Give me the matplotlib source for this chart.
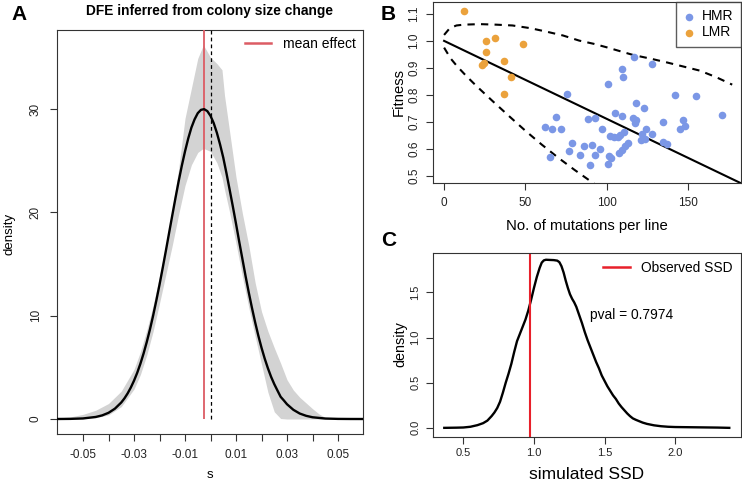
import matplotlib
matplotlib.use('Agg')
import matplotlib.pyplot as plt
from matplotlib.lines import Line2D

plt.rcParams['font.family'] = ['Liberation Sans', 'DejaVu Sans']

# ---------------- Panel A data ----------------
s_grid = [-0.06, -0.055, -0.05, -0.045, -0.0425, -0.04, -0.0375, -0.035,
          -0.03375, -0.0325, -0.03125, -0.03, -0.02875, -0.0275, -0.02625,
          -0.025, -0.02375, -0.0225, -0.02125, -0.02, -0.01875, -0.0175,
          -0.01625, -0.015, -0.01375, -0.0125, -0.01125, -0.01, -0.00875,
          -0.0075, -0.00625, -0.005, -0.00375, -0.0025, -0.00125, 0.0,
          0.00125, 0.0025, 0.00375, 0.005, 0.00625, 0.0075, 0.00875, 0.01,
          0.01125, 0.0125, 0.01375, 0.015, 0.01625, 0.0175, 0.01875, 0.02,
          0.02125, 0.0225, 0.02375, 0.025, 0.02625, 0.0275, 0.02875, 0.03,
          0.0325, 0.035, 0.0375, 0.04, 0.045, 0.05, 0.055, 0.06]
density_mean = [0.003, 0.014, 0.055, 0.20, 0.35, 0.60, 1.00, 1.60,
                2.00, 2.48, 3.05, 3.71, 4.47, 5.35, 6.34,
                7.45, 8.67, 10.01, 11.47, 13.0, 14.62, 16.29,
                18.0, 19.7, 21.38, 23.0, 24.52, 25.9, 27.14,
                28.2, 29.0, 29.6, 29.92, 29.99, 29.80, 29.34,
                28.64, 27.7, 26.57, 25.3, 23.8, 22.2, 20.58, 18.9,
                17.17, 15.5, 13.83, 12.25, 10.76, 9.36, 8.07, 6.90,
                5.85, 4.92, 4.09, 3.38, 2.76, 2.15, 1.80, 1.43,
                0.89, 0.53, 0.31, 0.17, 0.047, 0.012, 0.003, 0.001]

band_s = [-0.06, -0.055, -0.05, -0.045, -0.04, -0.035, -0.03, -0.0275, -0.025,
          -0.0225, -0.02, -0.0175, -0.015, -0.0125, -0.01, -0.0075, -0.005,
          -0.0028, 0.0, 0.0025, 0.0045, 0.0055, 0.0075, 0.01, 0.0125, 0.015,
          0.0175, 0.02, 0.0225, 0.025, 0.0275, 0.03, 0.0325, 0.035, 0.0375,
          0.04, 0.0425, 0.045, 0.05, 0.06]
band_upper = [0.1, 0.2, 0.45, 0.85, 1.5, 2.7, 4.8, 6.5, 8.6,
              11.0, 13.8, 16.9, 20.3, 24.2, 29.1, 32.0, 34.9,
              36.2, 35.0, 34.4, 33.8, 31.3, 27.8, 23.4, 19.9, 16.8,
              13.2, 10.4, 8.5, 6.9, 5.4, 3.8, 2.8, 2.1, 1.55,
              1.0, 0.5, 0.15, 0.02, 0.0]
band_lower = [0.0, 0.005, 0.03, 0.12, 0.4, 1.2, 2.9, 4.3, 6.2,
              8.5, 11.2, 14.0, 16.8, 19.8, 22.6, 24.6, 25.8,
              26.2, 25.9, 24.8, 23.4, 22.2, 20.0, 17.0, 13.8, 10.8,
              8.0, 5.3, 2.6, 0.7, 0.05, 0.0, 0.0, 0.0, 0.0,
              0.0, 0.0, 0.0, 0.0, 0.0]
mean_effect = -0.0027
zero_line = 0.0
a_xticks = [-0.05, -0.04, -0.03, -0.02, -0.01, 0.0, 0.01, 0.02, 0.03, 0.04, 0.05]
a_xticklabels = ['-0.05', '', '-0.03', '', '-0.01', '', '0.01', '', '0.03', '', '0.05']
a_yticks = [0, 10, 20, 30]

# ---------------- Panel B data ----------------
hmr_x = [116.8, 127.9, 109.0, 110.0, 100.8, 75.8, 141.6, 154.7, 117.7, 122.9,
         170.5, 104.9, 109.6, 68.9, 93.0, 88.6, 116.2, 117.8, 117.2, 134.6,
         146.9, 61.7, 66.0, 71.9, 96.8, 123.8, 148.0, 144.9, 121.7, 127.9,
         110.3, 108.0, 101.8, 104.5, 106.6, 123.4, 120.8, 78.6, 85.7, 91.0,
         112.7, 111.1, 134.6, 137.1, 95.7, 76.9, 83.7, 92.6, 109.4, 107.2,
         65.0, 101.2, 102.4, 89.9, 100.8]
hmr_y = [0.942, 0.915, 0.895, 0.865, 0.841, 0.804, 0.801, 0.795, 0.769, 0.751,
         0.726, 0.733, 0.722, 0.717, 0.715, 0.710, 0.716, 0.706, 0.696, 0.700,
         0.708, 0.682, 0.672, 0.672, 0.672, 0.674, 0.686, 0.675, 0.657, 0.656,
         0.663, 0.651, 0.647, 0.643, 0.645, 0.636, 0.632, 0.622, 0.612, 0.616,
         0.622, 0.610, 0.625, 0.619, 0.600, 0.593, 0.579, 0.579, 0.596, 0.584,
         0.571, 0.573, 0.566, 0.540, 0.545]
lmr_x = [12.1, 26.0, 31.2, 26.0, 48.2, 23.0, 24.4, 36.9, 41.0, 36.9]
lmr_y = [1.111, 1.001, 1.012, 0.957, 0.988, 0.909, 0.918, 0.924, 0.868, 0.803]
fit_x = [0, 190]
fit_y = [1.0, 0.451]
upper_x = [0, 3.5, 7.6, 12, 22, 32, 42, 53, 63, 73, 83, 92, 100, 108, 116,
           127, 137, 147, 157, 167, 177]
upper_y = [1.022, 1.047, 1.057, 1.060, 1.062, 1.060, 1.057, 1.047, 1.034,
           1.020, 1.001, 0.989, 0.976, 0.962, 0.948, 0.934, 0.920, 0.905,
           0.890, 0.866, 0.838]
lower_x = [0, 4, 8, 13, 18, 22, 30, 40, 50, 60, 70, 80, 92, 96]
lower_y = [0.975, 0.935, 0.906, 0.874, 0.844, 0.821, 0.776, 0.721, 0.667,
           0.616, 0.568, 0.523, 0.472, 0.455]
b_xticks = [0, 50, 100, 150]
b_yticks = [0.5, 0.6, 0.7, 0.8, 0.9, 1.0, 1.1]

# ---------------- Panel C data ----------------
ssd_x = [0.365, 0.45, 0.50, 0.55, 0.60, 0.64, 0.67, 0.70, 0.72, 0.74, 0.76,
         0.78, 0.80, 0.82, 0.84, 0.86, 0.88, 0.90, 0.92, 0.94, 0.96, 0.98,
         1.00, 1.02, 1.04, 1.055, 1.07, 1.085, 1.11, 1.14, 1.165, 1.18, 1.195,
         1.21, 1.225, 1.24, 1.255, 1.27, 1.285, 1.30, 1.32, 1.34, 1.36, 1.38,
         1.40, 1.42, 1.44, 1.46, 1.48, 1.50, 1.52, 1.54, 1.56, 1.58, 1.60,
         1.62, 1.64, 1.66, 1.68, 1.70, 1.72, 1.74, 1.77, 1.80, 1.85, 1.90,
         1.95, 2.0, 2.05, 2.1, 2.2, 2.3, 2.383]
ssd_y = [0.0, 0.002, 0.004, 0.012, 0.030, 0.052, 0.08, 0.13, 0.17, 0.22, 0.29,
         0.39, 0.50, 0.60, 0.71, 0.84, 0.96, 1.04, 1.12, 1.20, 1.30, 1.42,
         1.55, 1.67, 1.77, 1.83, 1.855, 1.862, 1.860, 1.858, 1.852, 1.835, 1.79,
         1.72, 1.63, 1.55, 1.48, 1.43, 1.39, 1.34, 1.25, 1.16, 1.06, 0.97,
         0.89, 0.81, 0.73, 0.66, 0.58, 0.52, 0.46, 0.41, 0.36, 0.32, 0.27,
         0.23, 0.195, 0.16, 0.13, 0.105, 0.09, 0.077, 0.058, 0.044, 0.028, 0.018,
         0.012, 0.009, 0.008, 0.007, 0.005, 0.003, 0.0]
observed_ssd = 0.975
pval_text = 'pval = 0.7974'
c_xticks = [0.5, 1.0, 1.5, 2.0]
c_yticks = [0.0, 0.5, 1.0, 1.5]

# ---------------- Figure ----------------
W, H = 742, 482
fig = plt.figure(figsize=(W / 100, H / 100), dpi=100)


def px_axes(l, t, r, b):
    return [l / W, 1 - b / H, (r - l) / W, (b - t) / H]


def px(x, y):
    return x / W, 1 - y / H


SPINE = '#333333'
BLUE = '#7b97e6'
ORANGE = '#eba23c'


def style(ax, size, xpad, ypad):
    for sp in ax.spines.values():
        sp.set_color(SPINE)
        sp.set_linewidth(0.8)
    ax.tick_params(direction='out', length=5, width=0.8, color=SPINE,
                   labelsize=size, colors='#222222')
    ax.tick_params(axis='x', pad=xpad)
    ax.tick_params(axis='y', pad=ypad)
    for lab in ax.get_yticklabels():
        lab.set_rotation(90)
        lab.set_va('center')


# Panel A
axA = fig.add_axes(px_axes(57, 30, 363, 434))
axA.fill_between(band_s, band_lower, band_upper, color='#d3d3d3', lw=0)
axA.vlines(mean_effect, 0, 40, color='#dc5c64', lw=1.3, zorder=3)
axA.vlines(zero_line, 0, 40, color='black', lw=0.9, linestyles=(0, (3, 2.5)), zorder=3)
axA.plot(s_grid, density_mean, color='black', lw=1.7, zorder=4)
axA.set_xlim(-0.0602, 0.0598)
axA.set_ylim(-1.45, 37.65)
axA.set_xticks(a_xticks)
axA.set_xticklabels(a_xticklabels)
axA.set_yticks(a_yticks)
axA.set_yticklabels([str(v) for v in a_yticks])
style(axA, 8.5, 6, 6)
legA = axA.legend([Line2D([0], [0], color='#dc5c64', lw=1.8)], ['mean effect'],
                  loc='upper right', frameon=False, fontsize=10,
                  handlelength=1.9, handletextpad=0.85, borderaxespad=0.2,
                  borderpad=0.3)
fig.text(*px(10, 234), 'density', rotation=90, ha='center', va='center', fontsize=9.5)
fig.text(*px(210, 478.5), 's', ha='center', va='baseline', fontsize=9.5)
fig.text(*px(210, 14.5), 'DFE inferred from colony size change', ha='center',
         va='baseline', fontsize=9.9, fontweight='bold')
fig.text(*px(11, 20), 'A', ha='left', va='baseline', fontsize=15, fontweight='bold')

# Panel B
axB = fig.add_axes(px_axes(432.7, 1.7, 741, 182.7))
axB.plot(fit_x, fit_y, color='black', lw=1.5)
axB.plot(upper_x, upper_y, color='black', lw=1.5, linestyle=(0, (3.5, 3)))
axB.plot(lower_x, lower_y, color='black', lw=1.5, linestyle=(0, (3.5, 3)))
axB.scatter(hmr_x, hmr_y, s=30, color=BLUE, lw=0, zorder=5, label='HMR')
axB.scatter(lmr_x, lmr_y, s=30, color=ORANGE, lw=0, zorder=5, label='LMR')
axB.set_xlim(-7.0, 182.4)
axB.set_ylim(0.475, 1.145)
axB.set_xticks(b_xticks)
axB.set_xticklabels([str(v) for v in b_xticks])
axB.set_yticks(b_yticks)
axB.set_yticklabels(['%.1f' % v for v in b_yticks])
style(axB, 8.5, 5, 4)
legB = axB.legend(loc='upper right', fontsize=10, frameon=True, fancybox=False,
                  borderaxespad=0, borderpad=0.55, handlelength=0.8,
                  handletextpad=0.5, labelspacing=0.15, scatterpoints=1)
legB.get_frame().set_edgecolor(SPINE)
legB.get_frame().set_linewidth(1.0)
fig.text(*px(399, 92.5), 'Fitness', rotation=90, ha='center', va='center', fontsize=10.7)
fig.text(*px(586.7, 230), 'No. of mutations per line', ha='center', va='baseline',
         fontsize=10.7)
fig.text(*px(381, 19.5), 'B', ha='left', va='baseline', fontsize=15, fontweight='bold')

# Panel C
axC = fig.add_axes(px_axes(432.7, 252.7, 741, 436.7))
axC.plot(ssd_x, ssd_y, color='black', lw=1.7)
axC.axvline(observed_ssd, color='#e8202a', lw=1.5)
axC.set_xlim(0.283, 2.466)
axC.set_ylim(-0.098, 1.94)
axC.set_xticks(c_xticks)
axC.set_xticklabels(['%.1f' % v for v in c_xticks])
axC.set_yticks(c_yticks)
axC.set_yticklabels(['%.1f' % v for v in c_yticks])
style(axC, 8, 3, 4)
axC.text(1.397, 1.25, pval_text, ha='left', va='center', fontsize=9.9)
legC = axC.legend([Line2D([0], [0], color='#e8202a', lw=1.8)], ['Observed SSD'],
                  loc='upper right', frameon=False, fontsize=9.9,
                  handlelength=2.0, handletextpad=0.8, borderaxespad=0.2,
                  borderpad=0.4)
fig.text(*px(400, 344.5), 'density', rotation=90, ha='center', va='center', fontsize=10.4)
fig.text(*px(586.7, 479), 'simulated SSD', ha='center', va='baseline', fontsize=12.5)
fig.text(*px(381, 246), 'C', ha='left', va='baseline', fontsize=15, fontweight='bold')

fig.savefig('out.png', dpi=100)
